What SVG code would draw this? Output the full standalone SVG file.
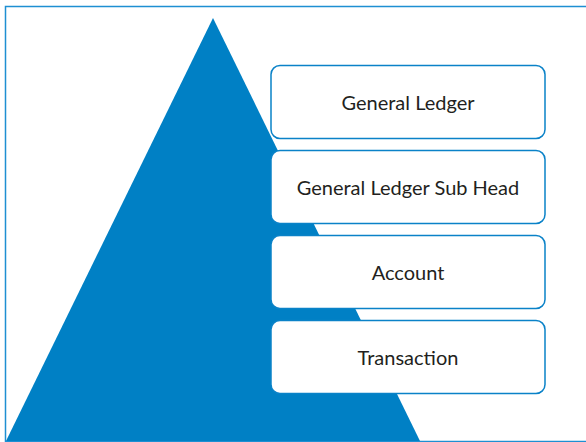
<svg xmlns="http://www.w3.org/2000/svg" width="586" height="442" viewBox="0 0 586 442">
  <style>
    .box { fill: #ffffff; stroke: #0a82c8; stroke-width: 1.5; }
    .lbl { font-family: Lato, "Open Sans", "Liberation Sans", sans-serif; font-size: 20px; fill: #231f20; text-anchor: middle; dominant-baseline: central; }
  </style>
  <rect x="0" y="0" width="586" height="442" fill="#ffffff"/>
  <rect x="5.5" y="6.5" width="600" height="435" fill="none" stroke="#1e8fd2" stroke-width="1.5"/>
  <g id="pyramid">
    <polygon points="213,18 6,441 420,441" fill="#0080c5"/>
  </g>
  <g id="connectors"></g>
  <g id="general-ledger">
    <rect class="box" x="271" y="65.5" width="274" height="73" rx="9"/>
    <text class="lbl" x="408" y="102">General Ledger</text>
  </g>
  <g id="general-ledger-sub-head">
    <rect class="box" x="271" y="150.5" width="274" height="73" rx="9"/>
    <text class="lbl" x="408" y="187">General Ledger Sub Head</text>
  </g>
  <g id="account">
    <rect class="box" x="271" y="235.5" width="274" height="73" rx="9"/>
    <text class="lbl" x="408" y="272">Account</text>
  </g>
  <g id="transaction">
    <rect class="box" x="271" y="320.5" width="274" height="73" rx="9"/>
    <text class="lbl" x="408" y="357">Transaction</text>
  </g>
</svg>
